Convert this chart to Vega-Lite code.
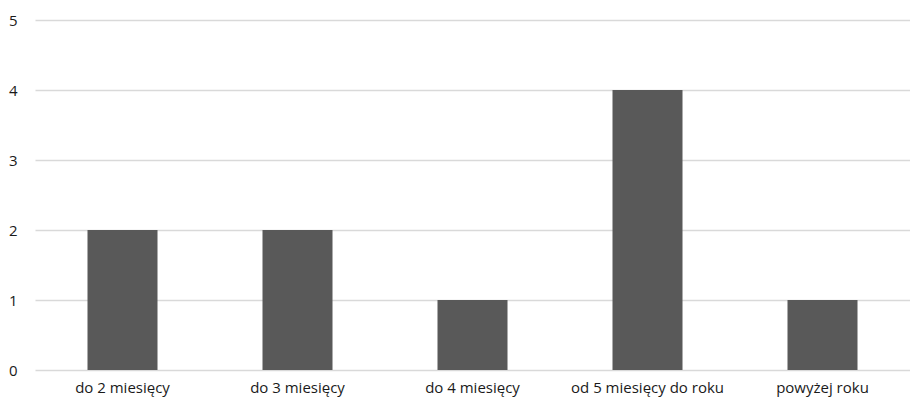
{
  "$schema": "https://vega.github.io/schema/vega-lite/v6.json",
  "width": 875,
  "height": 350,
  "autosize": {"type": "none"},
  "padding": {"left": 35, "top": 20, "right": 0, "bottom": 32},
  "background": "white",
  "config": {
    "view": {"stroke": null},
    "font": "Open Sans"
  },
  "data": {
    "values": [
      {"kategoria": "do 2 miesięcy", "wartosc": 2},
      {"kategoria": "do 3 miesięcy", "wartosc": 2},
      {"kategoria": "do 4 miesięcy", "wartosc": 1},
      {"kategoria": "od 5 miesięcy do roku", "wartosc": 4},
      {"kategoria": "powyżej roku", "wartosc": 1}
    ]
  },
  "mark": {"type": "bar", "color": "#595959"},
  "encoding": {
    "x": {
      "field": "kategoria",
      "type": "nominal",
      "sort": null,
      "scale": {"paddingInner": 0.6, "paddingOuter": 0.3},
      "axis": {
        "title": null,
        "labelAngle": 0,
        "labelFontSize": 15,
        "labelColor": "#1a1a1a",
        "labelPadding": 10,
        "ticks": false,
        "domain": false,
        "grid": false
      }
    },
    "y": {
      "field": "wartosc",
      "type": "quantitative",
      "scale": {"domain": [0, 5]},
      "axis": {
        "title": null,
        "values": [0, 1, 2, 3, 4, 5],
        "labelFontSize": 15,
        "labelColor": "#1a1a1a",
        "labelPadding": 18,
        "ticks": false,
        "domain": false,
        "grid": true,
        "gridColor": "#d9d9d9",
        "gridWidth": 1.5
      }
    }
  }
}
